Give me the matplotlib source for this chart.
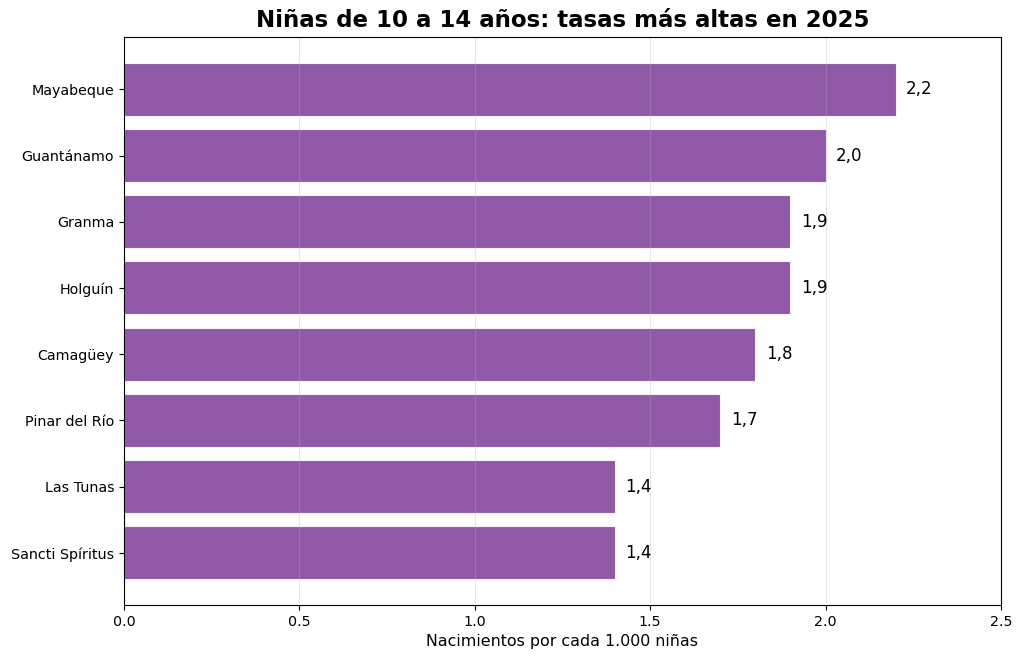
import matplotlib
matplotlib.use('Agg')
import matplotlib.pyplot as plt

# provincias y tasas (de abajo hacia arriba)
provincias = ['Sancti Spíritus', 'Las Tunas', 'Pinar del Río', 'Camagüey',
              'Holguín', 'Granma', 'Guantánamo', 'Mayabeque']
tasas = [1.4, 1.4, 1.7, 1.8, 1.9, 1.9, 2.0, 2.2]

fig, ax = plt.subplots(figsize=(10.24, 6.62), dpi=100)
bars = ax.barh(provincias, tasas, color='#7D3C98', alpha=0.85,
               edgecolor='white', linewidth=0.8)

for b, v in zip(bars, tasas):
    ax.text(b.get_width() + 0.03, b.get_y() + b.get_height() / 2,
            f'{v:.1f}'.replace('.', ','), va='center', ha='left', fontsize=12)

ax.set_xlim(0, 2.5)
ax.set_xlabel('Nacimientos por cada 1.000 niñas', fontsize=11.4)
ax.set_title('Niñas de 10 a 14 años: tasas más altas en 2025',
             fontsize=16.5, fontweight='bold', pad=7)
ax.tick_params(labelsize=10.3)
ax.grid(axis='x', alpha=0.3)
fig.subplots_adjust(left=0.121, right=0.9775, top=0.944, bottom=0.086)
plt.savefig('out.png')
